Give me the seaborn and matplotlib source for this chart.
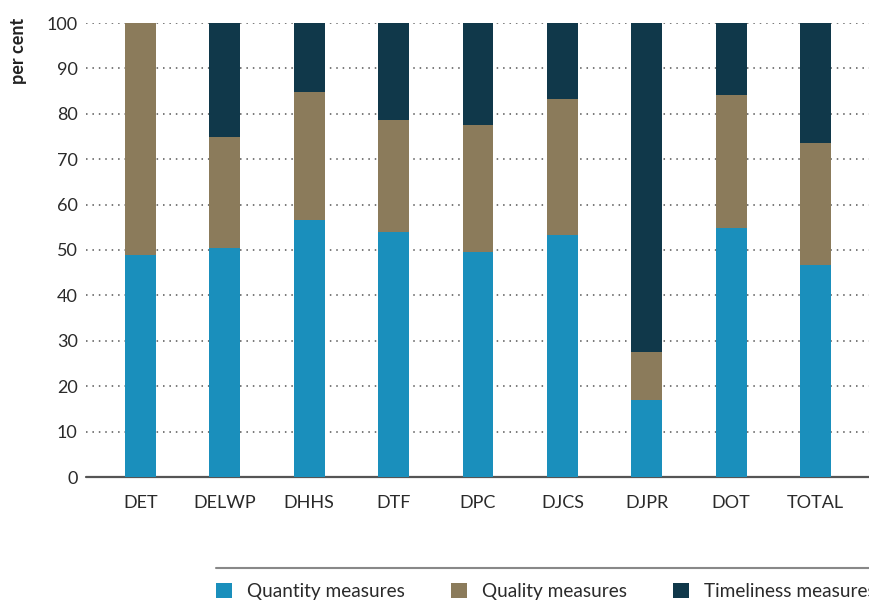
import matplotlib
matplotlib.use("Agg")
import matplotlib.pyplot as plt
from matplotlib.patches import Patch
from matplotlib.lines import Line2D
import seaborn as sns
import pandas as pd

departments = ["DET", "DELWP", "DHHS", "DTF", "DPC", "DJCS", "DJPR", "DOT", "TOTAL"]
quantity = [49.0, 50.5, 56.7, 54.0, 49.6, 53.2, 17.0, 54.9, 46.6]
quality = [51.0, 24.5, 28.2, 24.6, 27.9, 30.1, 10.5, 29.2, 27.0]
timeliness = [0.0, 25.0, 15.1, 21.4, 22.5, 16.7, 72.5, 15.9, 26.4]

series_names = ["Quantity measures", "Quality measures", "Timeliness measures"]
colors = ["#1a8fbc", "#8b7b5b", "#10384a"]
yticks = [0, 10, 20, 30, 40, 50, 60, 70, 80, 90, 100]

sns.set_theme(style="white")
plt.rcParams["font.family"] = ["Lato", "DejaVu Sans"]

df = pd.DataFrame({"dept": departments, "quantity": quantity,
                   "quality": quality, "timeliness": timeliness})

fig = plt.figure(figsize=(8.7, 6.03), dpi=100)
ax = fig.add_axes([86 / 870, 1 - 477 / 603, 1 - 86 / 870, (477 - 23) / 603])

bottom = [0.0] * len(departments)
for col, c in zip(["quantity", "quality", "timeliness"], colors):
    sns.barplot(data=df, x="dept", y=col, color=c, width=0.365,
                bottom=bottom, ax=ax, saturation=1, linewidth=0, zorder=3)
    bottom = [b + v for b, v in zip(bottom, df[col])]

ax.set_xlim(-0.645, len(departments) - 1 + 0.645)
ax.set_ylim(0, 100)
ax.set_yticks(yticks)
ax.set_xlabel("")
ax.set_ylabel("")
for y in yticks[1:]:
    ax.axhline(y, color="#555555", linestyle=(0, (1, 3.2)), linewidth=1.1, zorder=1)
ax.axhline(0, color="#555555", linewidth=1.6, zorder=2, clip_on=False)
for s in ax.spines.values():
    s.set_visible(False)
ax.tick_params(axis="x", length=0, pad=13, labelsize=13, labelcolor="#2a2a2a")
ax.tick_params(axis="y", length=0, pad=6, labelsize=13, labelcolor="#2a2a2a")

fig.text(19 / 870, 1 - 18 / 603, "per cent", rotation=90, ha="center", va="top",
         fontsize=13, fontweight="bold", color="#222222")

fig.add_artist(Line2D([216 / 870, 1.0], [1 - 568 / 603] * 2, color="#888888",
                      linewidth=1.5, transform=fig.transFigure))

handles = [Patch(facecolor=c, edgecolor="none", label=n) for c, n in zip(colors, series_names)]
fig.legend(handles=handles, loc="upper left", bbox_to_anchor=(216 / 870, 1 - 583 / 603),
           ncol=3, frameon=False, fontsize=13.7, handlelength=0.84, handleheight=0.84,
           handletextpad=0.79, columnspacing=2.42, borderaxespad=0, borderpad=0,
           labelcolor="#2a2a2a")

fig.savefig("out.png", dpi=100)
